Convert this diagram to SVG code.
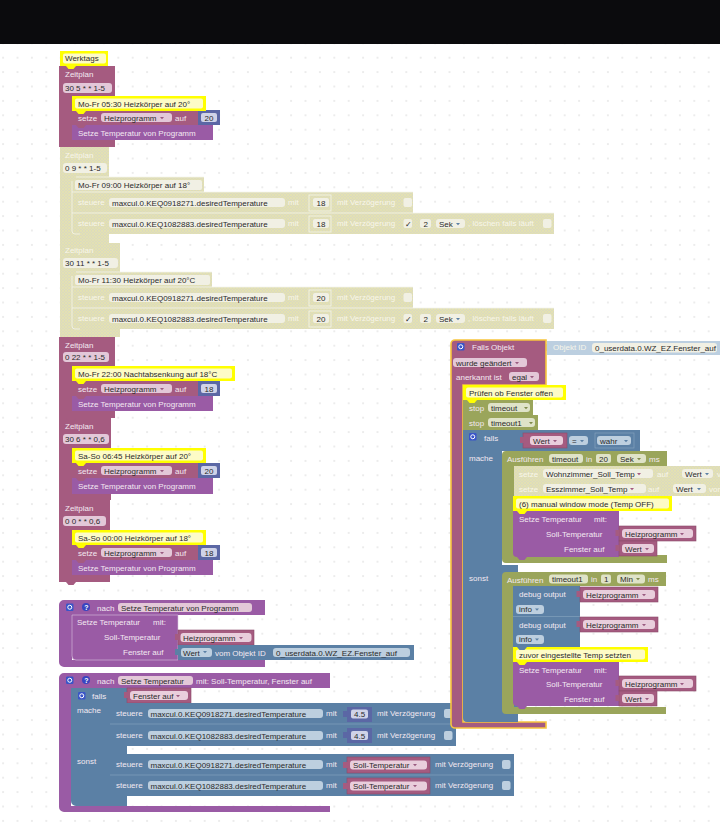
<svg xmlns="http://www.w3.org/2000/svg" width="720" height="822" viewBox="0 0 720 822">
<style>
text{font-family:"Liberation Sans",Arial,sans-serif;font-size:8px;white-space:pre}
.w{fill:#f3e9f1}.p{fill:#f8f6ea}.k{fill:#2a2a2a}
.z{fill:#a55b80}.v{fill:#a55b80;stroke:#8a4a6a;stroke-width:.6}.u{fill:#9a5ba5}.b{fill:#5b80a5}.o{fill:#9aa55b}.n{fill:#5b67a5}
.d{fill:url(#hatch)}.pb{fill:#bccfe0}
.yo{fill:#ffff00}.yi{fill:#fdfbc6}.di{fill:#f1f0e4}
.fz{fill:#e3c8d8}.fb{fill:#bdcfdf}.fo{fill:#dfe3c8}.fn{fill:#cfd3e8}.fv{fill:#e9cedc}
.ln{fill:none;stroke:#f4f4ec;stroke-width:.8}
</style>
<defs>
<pattern id="grid" width="14.4" height="14.4" patternUnits="userSpaceOnUse" x="3.1" y="0.1"><circle cx="0" cy="0" r=".8" fill="#d4d4d4"/><circle cx="14.4" cy="0" r=".8" fill="#d4d4d4"/><circle cx="0" cy="14.4" r=".8" fill="#d4d4d4"/><circle cx="14.4" cy="14.4" r=".8" fill="#d4d4d4"/></pattern>
<pattern id="hatch" width="3" height="3" patternUnits="userSpaceOnUse"><rect width="3" height="3" fill="#dbdabf"/><path d="M0 0L3 3M3 0L0 3" stroke="#e6e4ac" stroke-width=".7"/></pattern>
<path id="a" d="M0 0h4l-2 2.2z"/>
<path id="tab" d="M0 0l2.5 3h5l2.5-3z"/>
<g id="gear"><rect width="7.5" height="7.5" rx="1.2" fill="#3a55c8"/><circle cx="3.75" cy="3.75" r="2" fill="none" stroke="#fff" stroke-width="1"/></g>
<g id="q"><circle cx="4" cy="4" r="4" fill="#3a45c0"/><text x="2.2" y="6.8" style="font-size:7px;font-weight:bold" fill="#fff">?</text></g>
</defs>
<rect width="720" height="822" fill="#ffffff"/>
<rect y="44" width="720" height="778" fill="url(#grid)"/>
<rect width="720" height="44" fill="#0b0b0d"/>

<g id="werktags"><rect x="60" y="51" width="48" height="15" class="yo"/><rect x="63" y="53.500" width="43" height="10" rx="2" class="yi"/><text x="65" y="61" class="k">Werktags</text></g>

<g id="zeitplan1">
<path class="z" d="M59 66H115V96H72V132H115V147H59z"/><use href="#tab" x="66" y="66" fill="#ffff00"/>
<text x="65" y="76.500" class="w">Zeitplan</text><rect x="63" y="83" width="49" height="10" rx="3" class="fz"/><text x="65" y="91" class="k">30 5 * * 1-5</text>
<rect x="72" y="111" width="127" height="14" class="z"/><text x="78" y="121" class="w">setze</text><rect x="101" y="113" width="71" height="9" rx="3" class="fz"/><text x="104" y="120.500" class="k">Heizprogramm</text><use href="#a" x="160" y="117" fill="#9a5b80"/><text x="175" y="121" class="w">auf</text>
<rect x="198" y="110" width="22" height="15" class="n"/><rect x="201" y="113" width="16" height="9" rx="2" class="fn"/><text x="204.500" y="120.500" class="k">20</text>
<rect x="72" y="125" width="141" height="15" class="u"/><text x="78" y="136" class="w">Setze Temperatur von Programm</text>
<use href="#tab" x="76" y="125" fill="#a55b80"/>
<rect x="72" y="96" width="134" height="15" class="yo"/><rect x="75" y="98.500" width="128" height="10" rx="2" class="yi"/><text x="78" y="106.500" class="k">Mo-Fr 05:30 Heizkörper auf 20°</text><use href="#tab" x="76" y="111" fill="#ffff00"/>
<use href="#tab" x="66" y="147" fill="#a55b80"/></g>

<g id="zeitplan2">
<path class="d" d="M60 147H109V177H72V234H109V243H60z"/>
<text x="65" y="158" class="p">Zeitplan</text><rect x="63" y="163" width="44" height="10" rx="3" class="di"/><text x="65" y="171" class="k">0 9 * * 1-5</text>
<rect x="72" y="177" width="132" height="15" class="d"/><rect x="75" y="180" width="127" height="10" rx="2" class="di"/><text x="78" y="188" class="k">Mo-Fr 09:00 Heizkörper auf 18°</text>
<rect x="72" y="192" width="341" height="21" class="d"/><text x="78" y="205" class="p">steuere</text><rect x="109" y="198" width="176" height="9" rx="3" class="di"/><text x="112" y="205.500" class="k">maxcul.0.KEQ0918271.desiredTemperature</text><text x="288" y="205" class="p">mit</text><rect x="309" y="195" width="22" height="16" class="ln"/><rect x="313" y="198" width="16" height="9" rx="2" class="di"/><text x="316.500" y="205.500" class="k">18</text><text x="337" y="205" class="p">mit Verzögerung</text><rect x="403.500" y="198" width="8.500" height="9" rx="2" class="di"/>
<rect x="72" y="213" width="482" height="21" class="d"/><text x="78" y="226" class="p">steuere</text><rect x="109" y="219" width="176" height="9" rx="3" class="di"/><text x="112" y="226.500" class="k">maxcul.0.KEQ1082883.desiredTemperature</text><text x="288" y="226" class="p">mit</text><rect x="309" y="216" width="22" height="16" class="ln"/><rect x="313" y="219" width="16" height="9" rx="2" class="di"/><text x="316.500" y="226.500" class="k">18</text><text x="337" y="226" class="p">mit Verzögerung</text><rect x="403.500" y="219" width="8.500" height="9" rx="2" class="di"/><text x="404.500" y="227" class="k">✓</text><rect x="420" y="219" width="11" height="9" rx="2" class="di"/><text x="423.500" y="226.500" class="k">2</text><rect x="436" y="219" width="29" height="9" rx="3" class="di"/><text x="439" y="226.500" class="k">Sek</text><use href="#a" x="456" y="223" fill="#5b80a5"/><text x="468" y="226" class="p">, löschen falls läuft</text><rect x="543" y="219" width="8.500" height="9" rx="2" class="di"/>
<path class="ln" d="M76 177H204M72 181V231a3 3 0 0 0 3 3H80M72 192H413M72 213H554"/>
</g>

<g id="zeitplan3">
<path class="d" d="M60 243H120V272H72V329H120V337H60z"/>
<text x="65" y="253" class="p">Zeitplan</text><rect x="63" y="258" width="55" height="10" rx="3" class="di"/><text x="65" y="266" class="k">30 11 * * 1-5</text>
<rect x="72" y="272" width="140" height="15" class="d"/><rect x="75" y="275" width="135" height="10" rx="2" class="di"/><text x="78" y="283" class="k">Mo-Fr 11:30 Heizkörper auf 20°C</text>
<rect x="72" y="287" width="341" height="21" class="d"/><text x="78" y="300" class="p">steuere</text><rect x="109" y="293" width="176" height="9" rx="3" class="di"/><text x="112" y="300.500" class="k">maxcul.0.KEQ0918271.desiredTemperature</text><text x="288" y="300" class="p">mit</text><rect x="309" y="290" width="22" height="16" class="ln"/><rect x="313" y="293" width="16" height="9" rx="2" class="di"/><text x="316.500" y="300.500" class="k">20</text><text x="337" y="300" class="p">mit Verzögerung</text><rect x="403.500" y="293" width="8.500" height="9" rx="2" class="di"/>
<rect x="72" y="308" width="482" height="21" class="d"/><text x="78" y="321" class="p">steuere</text><rect x="109" y="314" width="176" height="9" rx="3" class="di"/><text x="112" y="321.500" class="k">maxcul.0.KEQ1082883.desiredTemperature</text><text x="288" y="321" class="p">mit</text><rect x="309" y="311" width="22" height="16" class="ln"/><rect x="313" y="314" width="16" height="9" rx="2" class="di"/><text x="316.500" y="321.500" class="k">20</text><text x="337" y="321" class="p">mit Verzögerung</text><rect x="403.500" y="314" width="8.500" height="9" rx="2" class="di"/><text x="404.500" y="322" class="k">✓</text><rect x="420" y="314" width="11" height="9" rx="2" class="di"/><text x="423.500" y="321.500" class="k">2</text><rect x="436" y="314" width="29" height="9" rx="3" class="di"/><text x="439" y="321.500" class="k">Sek</text><use href="#a" x="456" y="318" fill="#5b80a5"/><text x="468" y="321" class="p">, löschen falls läuft</text><rect x="543" y="314" width="8.500" height="9" rx="2" class="di"/>
<path class="ln" d="M76 272H212M72 276V326a3 3 0 0 0 3 3H80M72 287H413M72 308H554"/>
</g>

<g id="zeitplan4">
<path class="z" d="M59 337H115V366H72V411H115V418H59z"/>
<text x="65" y="348" class="w">Zeitplan</text><rect x="63" y="352" width="46" height="10" rx="3" class="fz"/><text x="65" y="360" class="k">0 22 * * 1-5</text>
<rect x="72" y="381" width="127" height="15" class="z"/><text x="78" y="391.500" class="w">setze</text><rect x="101" y="384" width="71" height="9" rx="3" class="fz"/><text x="104" y="391.500" class="k">Heizprogramm</text><use href="#a" x="160" y="388" fill="#9a5b80"/><text x="175" y="391.500" class="w">auf</text>
<rect x="198" y="381" width="22" height="15" class="n"/><rect x="201" y="384" width="16" height="9" rx="2" class="fn"/><text x="204.500" y="391.500" class="k">18</text>
<rect x="72" y="396" width="141" height="15" class="u"/><text x="78" y="406.500" class="w">Setze Temperatur von Programm</text>
<rect x="72" y="366" width="163" height="15" class="yo"/><rect x="75" y="368.500" width="157" height="10" rx="2" class="yi"/><text x="78" y="376.500" class="k">Mo-Fr 22:00 Nachtabsenkung auf 18°C</text><use href="#tab" x="76" y="381" fill="#ffff00"/>
<use href="#tab" x="76" y="396" fill="#a55b80"/>
</g>

<g id="zeitplan5">
<path class="z" d="M59 418H111V448H72V494H111V500H59z"/><use href="#tab" x="66" y="418" fill="#a55b80"/>
<text x="65" y="429" class="w">Zeitplan</text><rect x="63" y="434" width="46" height="10" rx="3" class="fz"/><text x="65" y="442" class="k">30 6 * * 0,6</text>
<rect x="72" y="463" width="127" height="15" class="z"/><text x="78" y="473.500" class="w">setze</text><rect x="101" y="466" width="71" height="9" rx="3" class="fz"/><text x="104" y="473.500" class="k">Heizprogramm</text><use href="#a" x="160" y="470" fill="#9a5b80"/><text x="175" y="473.500" class="w">auf</text>
<rect x="198" y="463" width="22" height="15" class="n"/><rect x="201" y="466" width="16" height="9" rx="2" class="fn"/><text x="204.500" y="473.500" class="k">20</text>
<rect x="72" y="478" width="141" height="16" class="u"/><text x="78" y="489" class="w">Setze Temperatur von Programm</text>
<rect x="72" y="448" width="134" height="15" class="yo"/><rect x="75" y="450.500" width="128" height="10" rx="2" class="yi"/><text x="78" y="458.500" class="k">Sa-So 06:45 Heizkörper auf 20°</text><use href="#tab" x="76" y="463" fill="#ffff00"/>
<use href="#tab" x="76" y="478" fill="#a55b80"/>
</g>

<g id="zeitplan6">
<path class="z" d="M59 500H110V530H72V575H110V582H59z"/><use href="#tab" x="66" y="500" fill="#a55b80"/>
<text x="65" y="511" class="w">Zeitplan</text><rect x="63" y="516" width="43" height="10" rx="3" class="fz"/><text x="65" y="524" class="k">0 0 * * 0,6</text>
<rect x="72" y="545" width="127" height="15" class="z"/><text x="78" y="555.500" class="w">setze</text><rect x="101" y="548" width="71" height="9" rx="3" class="fz"/><text x="104" y="555.500" class="k">Heizprogramm</text><use href="#a" x="160" y="552" fill="#9a5b80"/><text x="175" y="555.500" class="w">auf</text>
<rect x="198" y="545" width="22" height="15" class="n"/><rect x="201" y="548" width="16" height="9" rx="2" class="fn"/><text x="204.500" y="555.500" class="k">18</text>
<rect x="72" y="560" width="141" height="15" class="u"/><text x="78" y="570.500" class="w">Setze Temperatur von Programm</text>
<rect x="72" y="530" width="134" height="15" class="yo"/><rect x="75" y="532.500" width="128" height="10" rx="2" class="yi"/><text x="78" y="540.500" class="k">Sa-So 00:00 Heizkörper auf 18°</text><use href="#tab" x="76" y="545" fill="#ffff00"/>
<use href="#tab" x="76" y="560" fill="#a55b80"/>
<use href="#tab" x="66" y="582" fill="#a55b80"/></g>

<g id="prozedur1">
<path class="u" d="M64 600H265V615H72V660H265V667H64a5 5 0 0 1-5-5V605a5 5 0 0 1 5-5z"/>
<use href="#gear" x="66" y="603.500"/><use href="#q" x="82" y="603"/><text x="97" y="611" class="w">nach</text><rect x="118" y="603" width="134" height="9" rx="3" class="fz"/><text x="121" y="610.500" class="k">Setze Temperatur von Programm</text>
<path d="M72 615H178V660H76a4 4 0 0 1-4-4z" class="u" stroke="#d9c3de" stroke-width=".6"/>
<text x="77" y="625" class="w">Setze Temperatur</text><text x="153" y="625" class="w">mit:</text><text x="104" y="640" class="w">Soll-Temperatur</text><text x="123" y="655" class="w">Fenster auf</text>
<rect x="178" y="630" width="76" height="15" class="v"/><rect x="175" y="634" width="4" height="6" class="z"/><rect x="180.500" y="633" width="71" height="9" rx="3" class="fv"/><text x="183" y="640.500" class="k">Heizprogramm</text><use href="#a" x="239" y="637" fill="#9a5b80"/>
<rect x="178" y="645" width="236" height="15" class="b"/><rect x="175" y="649" width="4" height="6" class="b"/><rect x="181" y="648" width="31" height="9" rx="3" class="fb"/><text x="183" y="655.500" class="k">Wert</text><use href="#a" x="203" y="651" fill="#5b80a5"/><text x="215" y="655.500" class="w">vom Objekt ID</text><rect x="273" y="648" width="137" height="9" rx="3" class="fb"/><text x="276" y="655.500" class="k">0_userdata.0.WZ_EZ.Fenster_auf</text>
</g>

<g id="prozedur2">
<path class="u" d="M64 673H330V688H71V806H330V812H64a5 5 0 0 1-5-5V678a5 5 0 0 1 5-5z"/>
<use href="#gear" x="66" y="676.500"/><use href="#q" x="82" y="676"/><text x="97" y="684" class="w">nach</text><rect x="118" y="676" width="75" height="9" rx="3" class="fz"/><text x="121" y="683.500" class="k">Setze Temperatur</text><text x="196" y="684" class="w">mit: Soll-Temperatur, Fenster auf</text>
<path class="b" d="M71 688H127V754H110V796H127V806H76a5 5 0 0 1-5-5z"/>
<use href="#gear" x="78" y="692"/><text x="92" y="699" class="w">falls</text><text x="77" y="713" class="w">mache</text><text x="77" y="764" class="w">sonst</text>
<rect x="127" y="688" width="64" height="15" class="v"/><rect x="124" y="692" width="4" height="6" class="z"/><rect x="130" y="691" width="58" height="9" rx="3" class="fv"/><text x="133" y="698.500" class="k">Fenster auf</text><use href="#a" x="176" y="695" fill="#9a5b80"/>
<rect x="110" y="703" width="346" height="21" class="b"/><text x="116" y="716" class="w">steuere</text><rect x="148" y="709" width="175" height="9" rx="3" class="fb"/><text x="150.500" y="716.500" class="k">maxcul.0.KEQ0918271.desiredTemperature</text><text x="326" y="716" class="w">mit</text><rect x="347" y="707" width="25" height="15" class="n"/><rect x="343" y="711" width="5" height="6" class="n"/><rect x="351" y="709.500" width="17" height="9" rx="2" class="fn"/><text x="354" y="717" class="k">4.5</text><text x="377" y="716" class="w">mit Verzögerung</text><rect x="444" y="709" width="8.500" height="9" rx="2" class="fb"/>
<rect x="110" y="724" width="346" height="22" class="b"/><text x="116" y="738" class="w">steuere</text><rect x="148" y="731" width="175" height="9" rx="3" class="fb"/><text x="150.500" y="738.500" class="k">maxcul.0.KEQ1082883.desiredTemperature</text><text x="326" y="738" class="w">mit</text><rect x="347" y="728" width="25" height="15" class="n"/><rect x="343" y="732" width="5" height="6" class="n"/><rect x="351" y="731" width="17" height="9" rx="2" class="fn"/><text x="354" y="738.500" class="k">4.5</text><text x="377" y="738" class="w">mit Verzögerung</text><rect x="444" y="731" width="8.500" height="9" rx="2" class="fb"/>
<path d="M110 724H456" stroke="#8aa6c0" stroke-width=".6"/>
<rect x="110" y="754" width="404" height="21" class="b"/><text x="116" y="767" class="w">steuere</text><rect x="148" y="760" width="175" height="9" rx="3" class="fb"/><text x="150.500" y="767.500" class="k">maxcul.0.KEQ0918271.desiredTemperature</text><text x="326" y="767" class="w">mit</text><rect x="347" y="757" width="83" height="16" class="v"/><rect x="343" y="762" width="5" height="6" class="z"/><rect x="350" y="760.500" width="77" height="9" rx="3" class="fv"/><text x="353" y="768" class="k">Soll-Temperatur</text><use href="#a" x="413" y="764" fill="#9a5b80"/><text x="435" y="767" class="w">mit Verzögerung</text><rect x="502" y="760" width="8.500" height="9" rx="2" class="fb"/>
<rect x="110" y="775" width="404" height="21" class="b"/><text x="116" y="788" class="w">steuere</text><rect x="148" y="781" width="175" height="9" rx="3" class="fb"/><text x="150.500" y="788.500" class="k">maxcul.0.KEQ1082883.desiredTemperature</text><text x="326" y="788" class="w">mit</text><rect x="347" y="778" width="83" height="16" class="v"/><rect x="343" y="783" width="5" height="6" class="z"/><rect x="350" y="781.500" width="77" height="9" rx="3" class="fv"/><text x="353" y="789" class="k">Soll-Temperatur</text><use href="#a" x="413" y="785" fill="#9a5b80"/><text x="435" y="788" class="w">mit Verzögerung</text><rect x="502" y="781" width="8.500" height="9" rx="2" class="fb"/>
<path d="M110 775H514" stroke="#8aa6c0" stroke-width=".6"/>
</g>

<g id="falls-objekt">
<rect x="547" y="341" width="173" height="14" class="pb"/><rect x="543.500" y="344" width="4" height="7" class="pb"/><text x="553" y="350" class="p">Objekt ID</text><rect x="592" y="343" width="125" height="9.500" rx="3" class="di"/><text x="595" y="350.500" class="k">0_userdata.0.WZ_EZ.Fenster_auf</text>
<path class="z" d="M455 340H546V385H463V722H546V728H455a4 4 0 0 1-4-4V344a4 4 0 0 1 4-4z" stroke="#f7c53c" stroke-width="1.600"/>
<use href="#gear" x="457" y="343"/><text x="472" y="350" class="w">Falls Objekt</text>
<rect x="453" y="358" width="74" height="9" rx="3" class="fz"/><text x="456" y="365.500" class="k">wurde geändert</text><use href="#a" x="515" y="362" fill="#9a5b80"/>
<text x="456" y="380" class="w">anerkannt ist</text><rect x="509" y="372" width="30" height="9" rx="3" class="fz"/><text x="512" y="380" class="k">egal</text><use href="#a" x="530" y="376" fill="#9a5b80"/>
<rect x="463" y="400" width="70" height="15" class="o"/><text x="469" y="410.500" class="w">stop</text><rect x="488" y="403" width="42" height="9" rx="3" class="fo"/><text x="491" y="410.500" class="k">timeout</text><use href="#a" x="524" y="407" fill="#7f8a4b"/>
<rect x="463" y="415" width="75" height="15" class="o"/><text x="469" y="425.500" class="w">stop</text><rect x="488" y="418" width="47" height="9" rx="3" class="fo"/><text x="491" y="425.500" class="k">timeout1</text><use href="#a" x="529" y="422" fill="#7f8a4b"/>
<rect x="463" y="385" width="103" height="15" class="yo"/><rect x="466" y="387.500" width="97" height="10" rx="2" class="yi"/><text x="469" y="395.500" class="k">Prüfen ob Fenster offen</text><use href="#tab" x="467" y="400" fill="#ffff00"/>
<path class="b" d="M463 430H640V451H502V565H518V722H467a4 4 0 0 1-4-4z"/>
<use href="#gear" x="469" y="433"/><text x="484" y="440.500" class="w">falls</text><text x="469" y="461" class="w">mache</text><text x="469" y="581" class="w">sonst</text>
<rect x="523" y="433" width="44" height="15" class="v"/><rect x="520" y="437" width="4" height="6" class="z"/><rect x="530" y="436" width="33" height="9" rx="3" class="fv"/><text x="533" y="443.500" class="k">Wert</text><use href="#a" x="553" y="440" fill="#9a5b80"/>
<rect x="569" y="436" width="19" height="9" rx="3" class="fb"/><text x="572" y="443.500" class="k">=</text><use href="#a" x="580" y="440" fill="#5b80a5"/>
<rect x="595" y="433" width="39" height="15" fill="none" stroke="#8aa6c0" stroke-width=".6"/><rect x="597" y="436" width="34" height="9" rx="3" class="fb"/><text x="600" y="443.500" class="k">wahr</text><use href="#a" x="624" y="440" fill="#5b80a5"/>
<path class="o" d="M506 451H667V466H514V555H667V563H506a4 4 0 0 1-4-4V455a4 4 0 0 1 4-4z"/>
<text x="507" y="462" class="w">Ausführen</text><rect x="549" y="454" width="34" height="9" rx="3" class="fo"/><text x="552" y="461.500" class="k">timeout</text><text x="586" y="461.500" class="w">in</text><rect x="596" y="454" width="15" height="9" rx="2" class="fo"/><text x="599" y="461.500" class="k">20</text><rect x="617" y="454" width="29" height="9" rx="3" class="fo"/><text x="620" y="461.500" class="k">Sek</text><use href="#a" x="637" y="458" fill="#7f8a4b"/><text x="649" y="461.500" class="w">ms</text>
<rect x="514" y="466" width="206" height="15" class="d"/><text x="519" y="476.500" class="p">setze</text><rect x="543" y="469" width="110" height="9" rx="3" class="di"/><text x="546" y="476.500" class="k">Wohnzimmer_Soll_Temp</text><use href="#a" x="637" y="473" fill="#a55b80"/><text x="657" y="476.500" class="p">auf</text><rect x="682" y="469" width="31" height="9" rx="3" class="di"/><text x="685" y="476.500" class="k">Wert</text><use href="#a" x="705" y="473" fill="#5b80a5"/><text x="717" y="476.500" class="p">vom</text>
<rect x="514" y="481" width="206" height="15" class="d"/><text x="519" y="491.500" class="p">setze</text><rect x="543" y="484" width="103" height="9" rx="3" class="di"/><text x="546" y="491.500" class="k">Esszimmer_Soll_Temp</text><use href="#a" x="630" y="488" fill="#a55b80"/><text x="648" y="491.500" class="p">auf</text><rect x="673" y="484" width="33" height="9" rx="3" class="di"/><text x="676" y="491.500" class="k">Wert</text><use href="#a" x="697" y="488" fill="#5b80a5"/><text x="709" y="491.500" class="p">vom</text>
<rect x="513" y="496" width="159" height="15" class="yo"/><rect x="516" y="498.500" width="153" height="10" rx="2" class="yi"/><text x="519" y="506.500" class="k">(6) manual window mode (Temp OFF)</text>
<path class="u" d="M513 511H619V557H517a4 4 0 0 1-4-4z"/><text x="519" y="522" class="w">Setze Temperatur</text><text x="594" y="522" class="w">mit:</text><text x="546" y="536.500" class="w">Soll-Temperatur</text><text x="564" y="551.500" class="w">Fenster auf</text><use href="#tab" x="517" y="511" fill="#ffff00"/><use href="#tab" x="517" y="557" fill="#9a5ba5"/>
<rect x="619" y="526" width="77" height="15" class="v"/><rect x="615.500" y="530" width="4" height="6" class="z"/><rect x="622" y="529" width="71" height="9" rx="3" class="fv"/><text x="625" y="536.500" class="k">Heizprogramm</text><use href="#a" x="680" y="533" fill="#9a5b80"/>
<rect x="619" y="541" width="38" height="15" class="v"/><rect x="615.500" y="545" width="4" height="6" class="z"/><rect x="622" y="544" width="32" height="9" rx="3" class="fv"/><text x="625" y="551.500" class="k">Wert</text><use href="#a" x="645" y="548" fill="#9a5b80"/>
<path class="o" d="M506 572H666V586H514V707H666V714H506a4 4 0 0 1-4-4V576a4 4 0 0 1 4-4z"/>
<text x="507" y="582.500" class="w">Ausführen</text><rect x="549" y="574.500" width="39" height="9" rx="3" class="fo"/><text x="552" y="582" class="k">timeout1</text><text x="591" y="582" class="w">in</text><rect x="601" y="574.500" width="10" height="9" rx="2" class="fo"/><text x="604" y="582" class="k">1</text><rect x="617" y="574.500" width="28" height="9" rx="3" class="fo"/><text x="620" y="582" class="k">Min</text><use href="#a" x="636" y="578" fill="#7f8a4b"/><text x="648" y="582" class="w">ms</text>
<rect x="513" y="586" width="67" height="61" class="b"/><path d="M513 616.500H580" stroke="#8aa6c0" stroke-width=".6"/>
<text x="519" y="597" class="w">debug output</text><rect x="580" y="587" width="78" height="15" class="v"/><rect x="576.500" y="591" width="4" height="6" class="z"/><rect x="583" y="590" width="72" height="9" rx="3" class="fv"/><text x="586" y="597.500" class="k">Heizprogramm</text><use href="#a" x="642" y="594" fill="#9a5b80"/>
<rect x="516" y="605" width="28" height="9" rx="3" class="fb"/><text x="519" y="612" class="k">info</text><use href="#a" x="535" y="608.500" fill="#5b80a5"/>
<text x="519" y="627.500" class="w">debug output</text><rect x="580" y="617" width="78" height="15" class="v"/><rect x="576.500" y="621" width="4" height="6" class="z"/><rect x="583" y="620" width="72" height="9" rx="3" class="fv"/><text x="586" y="627.500" class="k">Heizprogramm</text><use href="#a" x="642" y="624" fill="#9a5b80"/>
<rect x="516" y="635" width="28" height="9" rx="3" class="fb"/><text x="519" y="642" class="k">info</text><use href="#a" x="535" y="638.500" fill="#5b80a5"/>
<path class="u" d="M513 662H619V706H517a4 4 0 0 1-4-4z"/><text x="519" y="672.500" class="w">Setze Temperatur</text><text x="594" y="672.500" class="w">mit:</text><text x="546" y="687" class="w">Soll-Temperatur</text><text x="564" y="702" class="w">Fenster auf</text><use href="#tab" x="517" y="706" fill="#9a5ba5"/>
<rect x="513" y="647" width="135" height="15" class="yo"/><rect x="516" y="649.500" width="129" height="10" rx="2" class="yi"/><text x="519" y="657.500" class="k">zuvor eingestellte Temp setzten</text><use href="#tab" x="517" y="662" fill="#ffff00"/><use href="#tab" x="517" y="647" fill="#5b80a5"/>
<rect x="619" y="676" width="77" height="15" class="v"/><rect x="615.500" y="680" width="4" height="6" class="z"/><rect x="622" y="679" width="71" height="9" rx="3" class="fv"/><text x="625" y="686.500" class="k">Heizprogramm</text><use href="#a" x="680" y="683" fill="#9a5b80"/>
<rect x="619" y="691" width="38" height="15" class="v"/><rect x="615.500" y="695" width="4" height="6" class="z"/><rect x="622" y="694" width="32" height="9" rx="3" class="fv"/><text x="625" y="701.500" class="k">Wert</text><use href="#a" x="645" y="698" fill="#9a5b80"/>
</g>
</svg>
